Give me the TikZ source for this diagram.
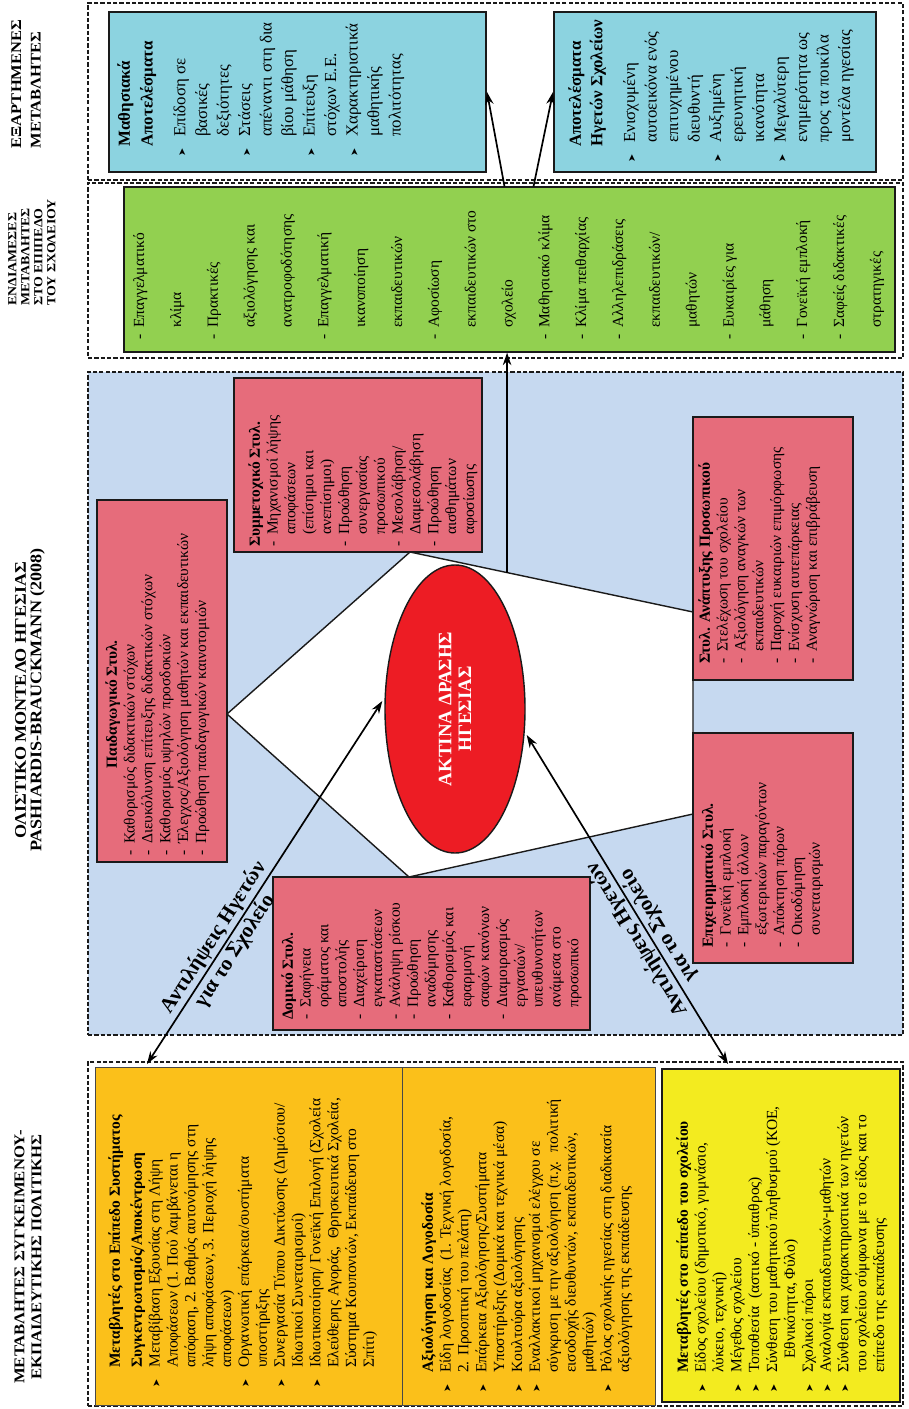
\documentclass[tikz,border=0pt]{standalone}
\usepackage{fontspec}
\setmainfont{Liberation Serif}
\newfontfamily\arrowfont{DejaVu Sans}
\newfontfamily\headfont[FakeStretch=1.12]{Liberation Serif}
\usepackage{xcolor}
\usetikzlibrary{arrows.meta,positioning,shapes.geometric,fit,calc}
\definecolor{hlmBlue}{HTML}{C6D9F0}
\definecolor{hlmRed}{HTML}{E66C7B}
\definecolor{hlmCore}{HTML}{ED1C24}
\definecolor{hlmGreen}{HTML}{92D050}
\definecolor{hlmCyan}{HTML}{8CD3E0}
\definecolor{hlmOrange}{HTML}{FBC01A}
\definecolor{hlmYellow}{HTML}{F3EB1F}
\definecolor{hlmLine}{HTML}{1A1A1A}
\newcommand{\itm}{\llap{\makebox[14pt][l]{\arrowfont\fontsize{7}{7}\selectfont ➤}}}
\newcommand{\dsh}{\makebox[8.5pt][l]{-}}
\newcommand{\cnt}{\hspace*{8.5pt}}
\tikzset{
  zonebox/.style={draw=hlmLine,dash pattern=on 3pt off 1.5pt,line width=0.8pt,inner sep=0pt},
  stylebox/.style={draw=hlmLine,fill=hlmRed,line width=1pt,inner sep=0pt},
  midbox/.style={draw=hlmLine,fill=hlmGreen,line width=0.8pt,inner sep=0pt},
  outbox/.style={draw=hlmLine,fill=hlmCyan,line width=1.4pt,inner sep=0pt},
  ctxbox/.style={draw=hlmLine!80,fill=hlmOrange,line width=0.7pt,inner sep=0pt},
  schoolbox/.style={draw=hlmLine,fill=hlmYellow,line width=1.3pt,inner sep=0pt},
  corestyle/.style={ellipse,draw=hlmLine,fill=hlmCore,line width=1pt,rotate=90,
    minimum width=72mm,minimum height=35mm,inner sep=0pt,align=center,text=white,
    font=\bfseries\fontsize{13.5}{14}\selectfont},
  boxtext/.style={rotate=90,anchor=north west,inner sep=0pt,align=left,
    font=\fontsize{11}{12.7}\selectfont},
  headtext/.style={rotate=90,inner sep=0pt,font=\headfont\bfseries\fontsize{10.5}{11}\selectfont},
  arrowlabel/.style={sloped,inner sep=0pt,align=center,font=\bfseries\fontsize{15}{18}\selectfont},
  arrow/.style={-{Stealth[length=9pt,width=6pt]},line width=1.2pt},
  dblarrow/.style={{Stealth[length=9pt,width=6pt]}-{Stealth[length=9pt,width=6pt]},line width=1.2pt}
}
\begin{document}
\begin{tikzpicture}[x=0.25mm,y=-0.25mm]
  \useasboundingbox (0,0) rectangle (908,1409);
  \node[zonebox,fit={(88,3) (903,180)}] (zoneout) {};
  \node[zonebox,fit={(88,183) (903,358)}] (zonemid) {};
  \node[zonebox,fill=hlmBlue,fit={(88,372) (903,1035)}] (zonemod) {};
  \node[zonebox,fit={(88,1062) (903,1406)}] (zonectx) {};

  \node[headtext,align=left,font=\headfont\bfseries\fontsize{10.5}{14}\selectfont] (hout) at (26,84) {ΕΞΑΡΤΗΜΕΝΕΣ\\ΜΕΤΑΒΛΗΤΕΣ};
  \node[headtext,align=left,anchor=north west,font=\headfont\bfseries\fontsize{8.8}{9.2}\selectfont] (hmid) at (8,306) {ΕΝΔΙΑΜΕΣΕΣ\\ΜΕΤΑΒΛΗΤΕΣ\\ΣΤΟ ΕΠΙΠΕΔΟ\\ΤΟΥ ΣΧΟΛΕΙΟΥ};
  \node[headtext,align=center,font=\headfont\bfseries\fontsize{11.5}{11}\selectfont] (hmod) at (30,700) {ΟΛΙΣΤΙΚΟ ΜΟΝΤΕΛΟ ΗΓΕΣΙΑΣ\\PASHIARDIS-BRAUCKMANN (2008)};
  \node[headtext,align=center,font=\headfont\bfseries\fontsize{10.6}{12}\selectfont] (hctx) at (28,1257) {ΜΕΤΑΒΛΗΤΕΣ ΣΥΓΚΕΙΜΕΝΟΥ-\\ΕΚΠΑΙΔΕΥΤΙΚΗΣ ΠΟΛΙΤΙΚΗΣ};

  \coordinate (p1) at (227,714);
  \coordinate (p2) at (410,552);
  \coordinate (p3) at (693,612);
  \coordinate (p4) at (693,814);
  \coordinate (p5) at (409,877);
  \draw[draw=hlmLine,fill=white,line width=1pt] (p1) -- (p2) -- (p3) -- (p4) -- (p5) -- cycle;

  \node[stylebox,fit={(97,500) (227,862)}] (ped) {};
  \node[stylebox,fit={(234,378) (482,552)}] (par) {};
  \node[stylebox,fit={(693,417) (853,680)}] (dev) {};
  \node[stylebox,fit={(693,733) (853,963)}] (ent) {};
  \node[stylebox,fit={(273,877) (590,1030)}] (str) {};
  \node[corestyle] (core) at (455,709) {ΑΚΤΙΝΑ ΔΡΑΣΗΣ\\ΗΓΕΣΙΑΣ};

  \node[midbox,fit={(124,187) (895,352)}] (mid) {};
  \node[outbox,fit={(109,12) (486,172)}] (outlearn) {};
  \node[outbox,fit={(554,12) (876,172)}] (outlead) {};
  \node[ctxbox,fit={(95,1067) (402,1405)}] (ctxsys) {};
  \node[ctxbox,fit={(402,1067) (655,1405)}] (ctxacc) {};
  \node[schoolbox,fit={(662,1069) (900,1402)}] (ctxsch) {};

  \node[boxtext] (pedtxt) at (105,856) {\hspace*{62pt}\textbf{Παιδαγωγικό Στυλ.}\\
    \dsh Καθορισμός διδακτικών στόχων\\
    \dsh Διευκόλυνση επίτευξης διδακτικών στόχων\\
    \dsh Καθορισμός υψηλών προσδοκιών\\
    \dsh Έλεγχος/Αξιολόγηση μαθητών και εκπαιδευτικών\\
    \dsh Προώθηση παιδαγωγικών καινοτομιών};
  \node[boxtext] (partxt) at (248,547) {\textbf{Συμμετοχικό Στυλ.}\\
    \dsh Μηχανισμοί λήψης\\ \cnt αποφάσεων\\ \cnt (επίσημοι και\\ \cnt ανεπίσημοι)\\
    \dsh Προώθηση\\ \cnt συνεργασίας\\ \cnt προσωπικού\\
    \dsh Μεσολάβηση/\\ \cnt Διαμεσολάβηση\\
    \dsh Προώθηση\\ \cnt αισθημάτων\\ \cnt αφοσίωσης};
  \node[boxtext] (strtxt) at (281,1020) {\textbf{Δομικό Στυλ.}\\
    \dsh Σαφήνεια\\ \cnt οράματος και\\ \cnt αποστολής\\
    \dsh Διαχείριση\\ \cnt εγκαταστάσεων\\
    \dsh Ανάληψη ρίσκου\\
    \dsh Προώθηση\\ \cnt αναδόμησης\\
    \dsh Καθορισμός και\\ \cnt εφαρμογή\\ \cnt σαφών κανόνων\\
    \dsh Διαμοιρασμός\\ \cnt εργασιών/\\ \cnt υπευθυνοτήτων\\ \cnt ανάμεσα στο\\ \cnt προσωπικό};
  \node[boxtext] (devtxt) at (698,664) {\textbf{Στυλ. Ανάπτυξης Προσωπικού}\\
    \dsh Στελέχωση του σχολείου\\
    \dsh Αξιολόγηση αναγκών των\\ \cnt εκπαιδευτικών\\
    \dsh Παροχή ευκαιριών επιμόρφωσης\\
    \dsh Ενίσχυση αυτεπάρκειας\\
    \dsh Αναγνώριση και επιβράβευση};
  \node[boxtext] (enttxt) at (701,948) {\textbf{Επιχειρηματικό Στυλ.}\\
    \dsh Γονεϊκή εμπλοκή\\
    \dsh Εμπλοκή άλλων\\ \cnt εξωτερικών παραγόντων\\
    \dsh Απόκτηση πόρων\\
    \dsh Οικοδόμηση\\ \cnt συνεταιρισμών};

  \node[boxtext,font=\fontsize{11}{26.2}\selectfont] (midtxt) at (133,340) {\dsh Επαγγελματικό\\ \cnt κλίμα\\
    \dsh Πρακτικές\\ \cnt αξιολόγησης και\\ \cnt ανατροφοδότησης\\
    \dsh Επαγγελματική\\ \cnt ικανοποίηση\\ \cnt εκπαιδευτικών\\
    \dsh Αφοσίωση\\ \cnt εκπαιδευτικών στο\\ \cnt σχολείο\\
    \dsh Μαθησιακό κλίμα\\
    \dsh Κλίμα πειθαρχίας\\
    \dsh Αλληλεπιδράσεις\\ \cnt εκπαιδευτικών/\\ \cnt μαθητών\\
    \dsh Ευκαιρίες για\\ \cnt μάθηση\\
    \dsh Γονεϊκή εμπλοκή\\
    \dsh Σαφείς διδακτικές\\ \cnt στρατηγικές};

  \node[boxtext,font=\fontsize{12}{15.3}\selectfont] (outlearntxt) at (117,137) {\hspace*{-7pt}\textbf{Μαθησιακά}\\[1pt]
    \hspace*{-7pt}\textbf{Αποτελέσματα}\\[8pt]
    \itm Επίδοση σε\\ βασικές\\ δεξιότητες\\
    \itm Στάσεις\\ απέναντι στη δια\\ βίου μάθηση\\
    \itm Επίτευξη\\ στόχων Ε.Ε.\\
    \itm Χαρακτηριστικά\\ μαθητικής\\ πολιτότητας};
  \node[boxtext,font=\fontsize{12}{15.3}\selectfont] (outleadtxt) at (568,143) {\hspace*{-3pt}\textbf{Αποτελέσματα}\\
    \hspace*{-3pt}\textbf{Ηγετών Σχολείων}\\[8pt]
    \itm Ενισχυμένη\\ αυτοεικόνα ενός\\ επιτυχημένου\\ διευθυντή\\
    \itm Αυξημένη\\ ερευνητική\\ ικανότητα\\
    \itm Μεγαλύτερη\\ ενημερότητα ως\\ προς τα ποικίλα\\ μοντέλα ηγεσίας};

  \node[boxtext] (ctxsystxt) at (108,1368) {\textbf{Μεταβλητές στο Επίπεδο Συστήματος}\\[3pt]
    \textbf{Συγκεντρωτισμός/Αποκέντρωση}\\
    \itm Μεταβίβαση Εξουσίας στη Λήψη\\
    Αποφάσεων (1. Πού λαμβάνεται η\\
    απόφαση, 2. Βαθμός αυτονόμησης στη\\
    λήψη αποφάσεων, 3. Περιοχή λήψης\\
    αποφάσεων)\\
    \itm Οργανωτική επάρκεια/συστήματα\\
    υποστήριξης\\
    \itm Συνεργασία Τύπου Δικτύωσης (Δημόσιου/\\
    Ιδιωτικοί Συνεταιρισμοί)\\
    \itm Ιδιωτικοποίηση/ Γονεϊκή Επιλογή (Σχολεία\\
    Ελεύθερης Αγοράς, \ Θρησκευτικά Σχολεία,\\
    Σύστημα Κουπονιών, Εκπαίδευση στο\\
    Σπίτι)};
  \node[boxtext] (ctxacctxt) at (421,1373) {\textbf{Αξιολόγηση και Λογοδοσία}\\
    \itm Είδη λογοδοσίας \ (1. Τεχνική λογοδοσία,\\
    2. Προοπτική του πελάτη)\\
    \itm Επάρκεια Αξιολόγησης/Συστήματα\\
    Υποστήριξης (Δομικά και τεχνικά μέσα)\\
    \itm Κουλτούρα αξιολόγησης\\
    \itm Εναλλακτικοί μηχανισμοί ελέγχου σε\\
    σύγκριση με την αξιολόγηση (π.χ. \ πολιτική\\
    εισοδοχής διευθυντών, εκπαιδευτικών,\\
    μαθητών)\\
    \itm Ρόλος σχολικής ηγεσίας στη διαδικασία\\
    αξιολόγησης της εκπαίδευσης};
  \node[boxtext] (ctxschtxt) at (676,1373) {\textbf{Μεταβλητές στο επίπεδο του σχολείου}\\
    \itm Είδος σχολείου (δημοτικό, γυμνάσιο,\\
    λύκειο, τεχνική)\\
    \itm Μέγεθος σχολείου\\
    \itm Τοποθεσία \ (αστικό - ύπαιθρος)\\
    \itm Σύνθεση του μαθητικού πληθυσμού (ΚΟΕ,\\
    \hspace*{10pt}Εθνικότητα, Φύλο)\\
    \itm Σχολικοί πόροι\\
    \itm Αναλογία εκπαιδευτικών-μαθητών\\
    \itm Σύνθεση και χαρακτηριστικά των ηγετών\\
    του σχολείου σύμφωνα με το είδος και το\\
    επίπεδο της εκπαίδευσης};

  \coordinate (pgtop) at ($(p2)!0.343!(p3)$);
  \coordinate (ctxin1) at (147,1064);
  \coordinate (ctxin2) at (728,1064);
  \draw[arrow] (pgtop) -- (pgtop |- mid.south);
  \draw[arrow] ($(mid.north)+(-5,0)$) -- (outlearn.east);
  \draw[arrow] ($(mid.north)+(24,0)$) -- (outlead.west);
  \draw[dblarrow] (ctxin1) -- node[arrowlabel,pos=0.33] (percA) {Αντιλήψεις Ηγετών\\για το Σχολείο} ($(core.north)+(-2,-8)$);
  \draw[dblarrow] (ctxin2) -- node[arrowlabel,allow upside down,pos=0.40] (percB) {Αντιλήψεις Ηγετών\\για το Σχολείο} ($(core.south)+(1,26)$);
\end{tikzpicture}
\end{document}
